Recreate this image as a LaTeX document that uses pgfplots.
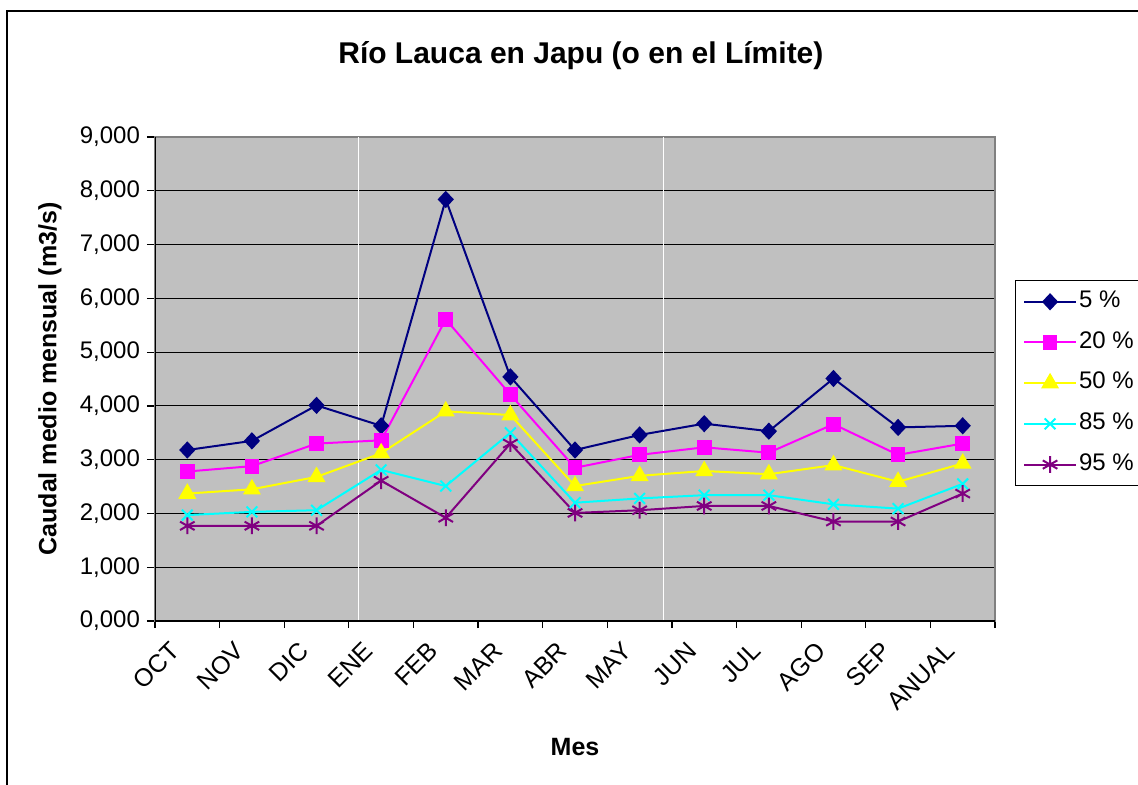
\documentclass[border=0pt]{standalone}
\usepackage{fontspec}
\setmainfont{Liberation Sans}
\usepackage{pgfplots}
\pgfplotsset{compat=1.18}
\definecolor{c5}{RGB}{0,0,128}
\definecolor{c20}{RGB}{255,0,255}
\definecolor{c50}{RGB}{255,255,0}
\definecolor{c85}{RGB}{0,255,255}
\definecolor{c95}{RGB}{128,0,128}
\definecolor{plotbg}{RGB}{192,192,192}
\begin{document}
\begin{tikzpicture}[x=1pt,y=1pt]
\useasboundingbox (0,0) rectangle (569,-392);
\draw[line width=1pt] (3.65,-400) -- (3.65,-5.5) -- (580,-5.5);
\begin{axis}[
  at={(77.5pt,-310.5pt)}, anchor=south west,
  scale only axis, width=420pt, height=242pt,
  xmin=-0.5, xmax=12.5, ymin=0, ymax=9,
  axis background/.style={fill=plotbg},
  axis line style={draw=gray, line width=0.8pt},
  xtick={0,...,12},
  xticklabels={OCT,NOV,DIC,ENE,FEB,MAR,ABR,MAY,JUN,JUL,AGO,SEP,ANUAL},
  minor xtick={-0.5,0.5,...,12.5},
  ytick={0,...,9},
  xtick pos=bottom, ytick pos=left,
  tick align=outside,
  major tick length=4pt, minor tick length=3.5pt,
  major x tick style={draw=none},
  tick style={black, line width=0.6pt},
  ymajorgrids, grid style={black, line width=0.5pt},
  yticklabel style={/pgf/number format/.cd, fixed, fixed zerofill, precision=3, use comma, assume math mode=true},
  ticklabel style={font=\fontsize{12}{14}\selectfont},
  xticklabel style={rotate=45, anchor=north east, xshift=-7.2pt, yshift=5.9pt, font=\fontsize{12.5}{14}\selectfont},
  xlabel={Mes}, ylabel={Caudal medio mensual (m3/s)},
  label style={font=\bfseries\fontsize{12.5}{15}\selectfont},
  xlabel style={at={(axis description cs:0.5,-0.26)}, anchor=center},
  ylabel style={at={(axis description cs:-0.125,0.5)}, anchor=center, rotate=0},
  title={Río Lauca en Japu (o en el Límite)},
  title style={at={(axis description cs:0.507,1.144)}, anchor=center, font=\bfseries\fontsize{15}{18}\selectfont},
  legend style={at={(axis description cs:1.0246,0.703)}, anchor=north west, name=leg,
    draw=none, fill=white, font=\fontsize{12}{14}\selectfont,
    inner sep=3.5pt, row sep=6.75pt,
    nodes={inner sep=1pt, text height=8.6pt, text depth=3pt}},
  legend cell align=left,
  legend image code/.code={\draw[mark repeat=2,mark phase=2,#1] plot coordinates {(0pt,0pt) (13pt,0pt) (26pt,0pt)};},
  every axis plot/.append style={line width=1pt},
]
\draw[white, line width=0.6pt] (axis cs:2.646,0) -- (axis cs:2.646,9);
\draw[white, line width=0.6pt] (axis cs:7.373,0) -- (axis cs:7.373,9);
\addplot[c5, mark=diamond*, mark size=3.6pt, mark options={fill=c5, solid, xscale=1.25}] coordinates {
(0,3.18) (1,3.35) (2,4.01) (3,3.63) (4,7.84) (5,4.54) (6,3.18) (7,3.46) (8,3.67) (9,3.53) (10,4.51) (11,3.60) (12,3.63)};
\addlegendentry{5 \%}
\addplot[c20, mark=square*, mark size=3.2pt, mark options={fill=c20, solid}] coordinates {
(0,2.78) (1,2.88) (2,3.30) (3,3.36) (4,5.61) (5,4.21) (6,2.85) (7,3.09) (8,3.23) (9,3.13) (10,3.66) (11,3.09) (12,3.30)};
\addlegendentry{20 \%}
\addplot[c50, mark=triangle*, mark size=4.2pt, mark options={fill=c50, solid}] coordinates {
(0,2.37) (1,2.45) (2,2.68) (3,3.12) (4,3.90) (5,3.83) (6,2.51) (7,2.70) (8,2.79) (9,2.73) (10,2.90) (11,2.59) (12,2.93)};
\addlegendentry{50 \%}
\addplot[c85, mark=x, mark size=3.8pt, mark options={solid, line width=1pt}] coordinates {
(0,1.97) (1,2.03) (2,2.06) (3,2.81) (4,2.51) (5,3.50) (6,2.20) (7,2.28) (8,2.34) (9,2.34) (10,2.17) (11,2.09) (12,2.55)};
\addlegendentry{85 \%}
\addplot[c95, mark=asterisk, mark size=4.2pt, mark options={solid, line width=1pt}] coordinates {
(0,1.77) (1,1.77) (2,1.77) (3,2.61) (4,1.92) (5,3.30) (6,2.01) (7,2.06) (8,2.14) (9,2.14) (10,1.85) (11,1.85) (12,2.37)};
\addlegendentry{95 \%}
\draw[black, line width=0.8pt] (rel axis cs:0,1) -- (rel axis cs:0,0) -- (rel axis cs:1,0);
\end{axis}
\draw[line width=0.5pt] ([xshift=40pt]leg.north east) -- (leg.north west) -- (leg.south west) -- ([xshift=40pt]leg.south east);
\end{tikzpicture}
\end{document}
